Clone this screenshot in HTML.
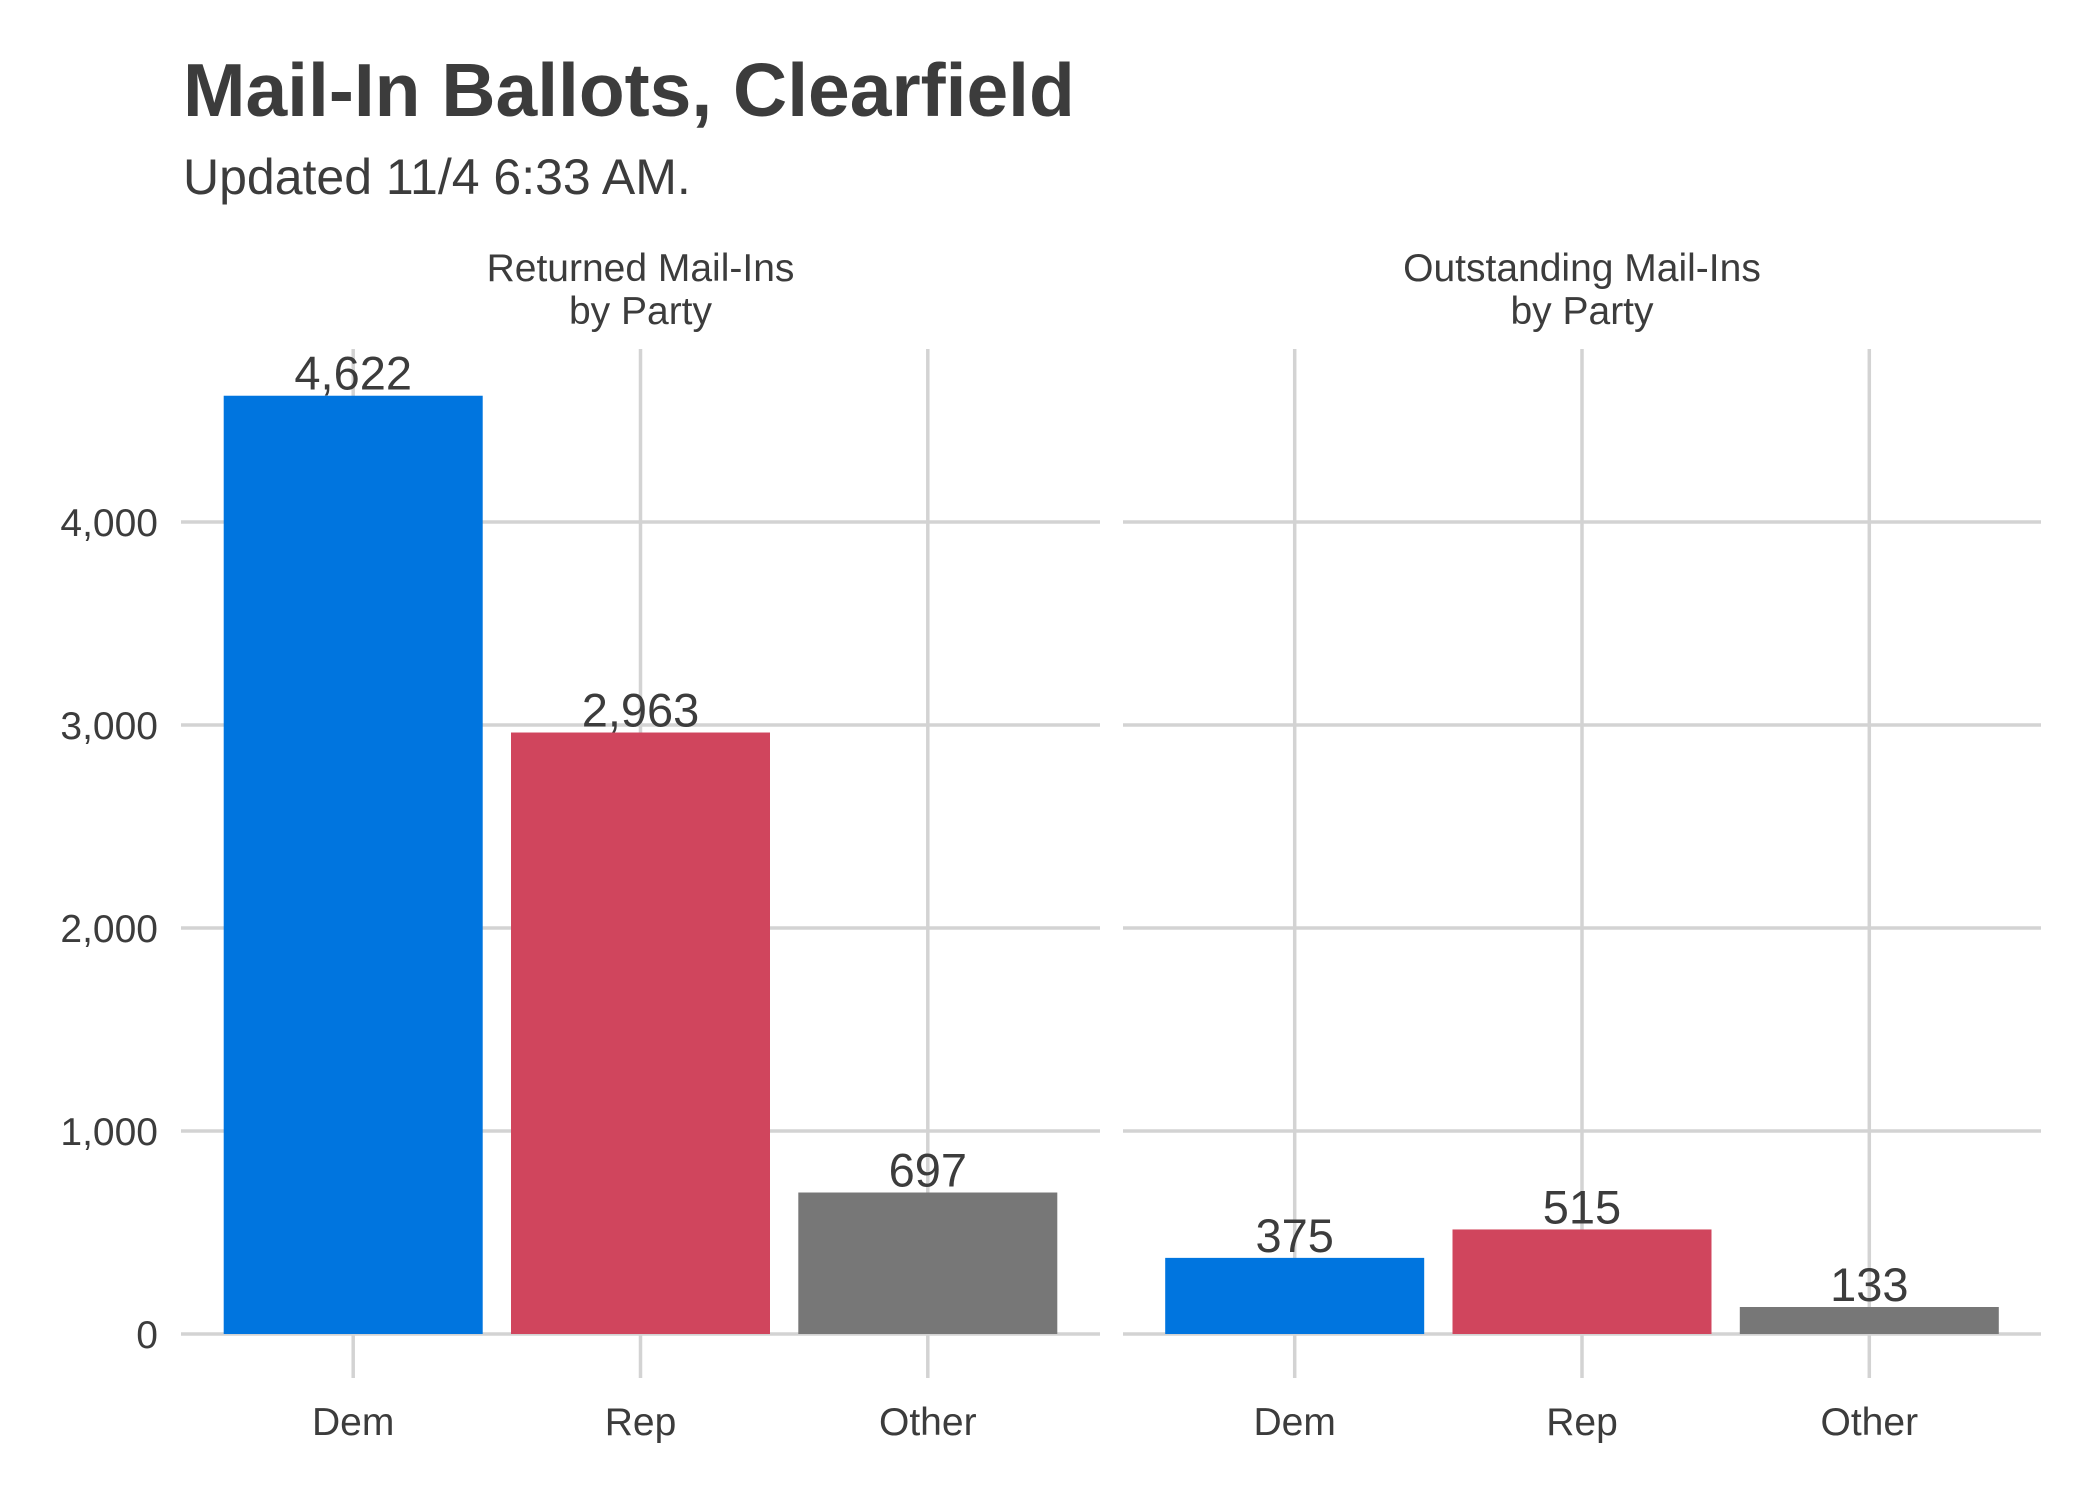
<!DOCTYPE html>
<html><head><meta charset="utf-8"><style>
body{margin:0;background:#fff}
svg{display:block;font-family:"Liberation Sans",Arial,sans-serif}
</style></head><body>
<svg id="chart" width="2100" height="1500" viewBox="0 0 2100 1500">
<text x="183" y="116" font-size="75" font-weight="bold" fill="#3c3c3c">Mail-In Ballots, Clearfield</text>
<text x="183" y="194" font-size="50" fill="#3c3c3c">Updated 11/4 6:33 AM.</text>
<g id="plot"></g>
</svg>
<script>
const categories = ["Dem","Rep","Other"];
const panels = ["Returned Mail-Ins|by Party","Outstanding Mail-Ins|by Party"];
const returnedValues = [4622, 2963, 697];
const outstandingValues = [375, 515, 133];
const yTicks = [0, 1000, 2000, 3000, 4000];
const yTickLabels = ["0","1,000","2,000","3,000","4,000"];
const colors = ["#0075DF","#D0455D","#777777"];

const NS = "http://www.w3.org/2000/svg";
const g = document.getElementById("plot");
const y0 = 1334, yTop = 349, pxPer = 203/1000;
function yScale(v){ return y0 - v*pxPer; }
const panelX = [[181,1100],[1123,2041]];
const band = 287.3, barW = 259;
function xScale(p,i){ const [a,b]=panelX[p]; const mid=(a+b)/2; return mid + (i-1)*band; }
function el(tag, attrs, parent){ const e=document.createElementNS(NS,tag); for(const k in attrs) e.setAttribute(k,attrs[k]); (parent||g).appendChild(e); return e; }

const allValues = [returnedValues, outstandingValues];
yTicks.forEach((t,i)=>{
  const tx = el("text",{x:158,y:yScale(t)+14,"font-size":39,fill:"#3c3c3c","text-anchor":"end"});
  
  
  tx.textContent = yTickLabels[i];
});
panels.forEach((title,p)=>{
  const [a,b]=panelX[p];
  const pg = el("g",{});
  
  
  yTicks.forEach(t=>{
    const l = el("line",{x1:a,x2:b,y1:yScale(t),y2:yScale(t),stroke:"#d3d3d3","stroke-width":3.5},pg);
    
    
  });
  categories.forEach((c,i)=>{
    const cx = xScale(p,i);
    const l = el("line",{x1:cx,x2:cx,y1:yTop,y2:1378,stroke:"#d3d3d3","stroke-width":3.5},pg);
    
    
  });
  const parts = title.split("|");
  parts.forEach((s,k)=>{
    const t = el("text",{x:(a+b)/2,y:281+k*43,"font-size":39,fill:"#3c3c3c","text-anchor":"middle"},pg);
    
    
    t.textContent = s;
  });
  categories.forEach((c,i)=>{
    const v = allValues[p][i];
    const cx = xScale(p,i);
    const r = el("rect",{x:cx-barW/2,y:yScale(v),width:barW,height:y0-yScale(v),fill:colors[i]},pg);
    
    
    const vl = el("text",{x:cx,y:yScale(v)-6,"font-size":47,fill:"#3c3c3c","text-anchor":"middle"},pg);
    
    
    vl.textContent = v.toLocaleString("en-US");
    const xl = el("text",{x:cx,y:1435,"font-size":39,fill:"#3c3c3c","text-anchor":"middle"},pg);
    
    
    xl.textContent = c;
  });
});
</script>
</body></html>
